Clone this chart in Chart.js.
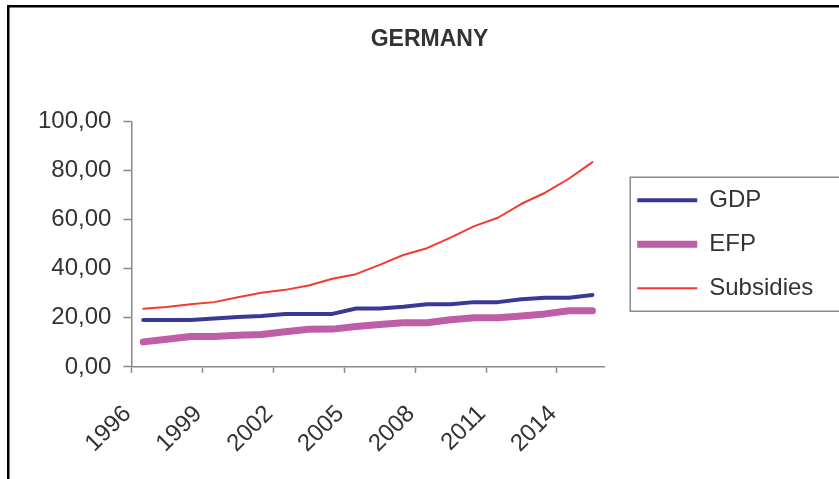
<!DOCTYPE html>
<html>
<head>
<meta charset="utf-8">
<script src="https://cdn.jsdelivr.net/npm/chart.js@4.4.1/dist/chart.umd.min.js"></script>
<style>
  html, body { margin: 0; padding: 0; background: #fff; }
  canvas { display: block; }
</style>
</head>
<body>
<canvas id="grafico" width="839" height="479"></canvas>
<script>
const anos = [1996, 1997, 1998, 1999, 2000, 2001, 2002, 2003, 2004, 2005,
              2006, 2007, 2008, 2009, 2010, 2011, 2012, 2013, 2014, 2015];
const gdp = [19.1, 19.1, 19.1, 19.7, 20.3, 20.7, 21.6, 21.6, 21.6, 23.8,
             23.8, 24.5, 25.5, 25.5, 26.4, 26.4, 27.6, 28.2, 28.2, 29.3];
const efp = [10.2, 11.3, 12.4, 12.4, 12.9, 13.2, 14.3, 15.3, 15.4, 16.5,
             17.3, 18.0, 18.0, 19.2, 20.0, 20.0, 20.7, 21.6, 22.9, 22.9];
const subsidies = [23.7, 24.4, 25.5, 26.4, 28.4, 30.2, 31.4, 33.2, 35.9, 37.8,
                   41.6, 45.6, 48.4, 52.7, 57.4, 60.8, 66.5, 71.0, 76.7, 83.5];
const anosRotulo = [1996, 1999, 2002, 2005, 2008, 2011, 2014];

const fonte = "'Liberation Sans', Arial, sans-serif";
const corTexto = '#333333';
const corEixo = '#8a8a8a';

function serie(valores) {
  return anos.map((a, i) => ({ x: a, y: valores[i] }));
}

// moldura preta do quadro e caixa da legenda
const moldura = {
  id: 'moldura',
  afterLayout(chart) {
    // legenda um pouco afastada do grafico (ate a borda), titulo levemente a direita
    const lg = chart.legend;
    lg.left += 13;
    lg.right = chart.width;
    lg.width = lg.right - lg.left;
    chart.titleBlock.left += 18;
    chart.titleBlock.right += 18;
  },
  beforeDraw(chart) {
    const ctx = chart.ctx;
    ctx.save();
    ctx.fillStyle = '#fff';
    ctx.fillRect(0, 0, chart.width, chart.height);
    ctx.fillStyle = '#000';
    ctx.fillRect(7, 5, chart.width, 2.5);
    ctx.fillRect(7, 5, 2.5, chart.height);
    ctx.restore();
  },
  afterDraw(chart) {
    const lg = chart.legend;
    const ctx = chart.ctx;
    const cy = (lg.top + lg.bottom) / 2;
    ctx.save();
    ctx.strokeStyle = corEixo;
    ctx.lineWidth = 1.5;
    ctx.strokeRect(lg.left + 13, cy - 67, 400, 134);
    ctx.restore();
  }
};

new Chart(document.getElementById('grafico'), {
  type: 'line',
  data: {
    datasets: [
      { label: 'GDP', data: serie(gdp), borderColor: '#373a97', backgroundColor: '#373a97', borderWidth: 4 },
      { label: 'EFP', data: serie(efp), borderColor: '#bd5ea6', backgroundColor: '#bd5ea6', borderWidth: 7 },
      { label: 'Subsidies', data: serie(subsidies), borderColor: '#f43a30', backgroundColor: '#f43a30', borderWidth: 2 }
    ]
  },
  plugins: [moldura],
  options: {
    responsive: false,
    animation: false,
    elements: {
      point: { radius: 0 },
      line: { tension: 0, borderCapStyle: 'round', borderJoinStyle: 'round' }
    },
    layout: { padding: { left: 26, right: 42, top: 0, bottom: -6 } },
    plugins: {
      title: {
        display: true,
        text: 'GERMANY',
        color: corTexto,
        font: { family: fonte, size: 23, weight: 'bold' },
        padding: { top: 26, bottom: 68 }
      },
      legend: {
        position: 'right',
        fullSize: false,
        labels: {
          usePointStyle: true,
          pointStyle: 'line',
          pointStyleWidth: 60,
          padding: 20,
          color: corTexto,
          font: { family: fonte, size: 24 }
        }
      },
      tooltip: { enabled: false }
    },
    scales: {
      x: {
        type: 'linear',
        min: 1995.5,
        max: 2015.5,
        afterBuildTicks: s => { s.ticks = anosRotulo.map(a => ({ value: a - 0.5 })); },
        ticks: {
          minRotation: 45,
          maxRotation: 45,
          padding: 27,
          labelOffset: -4,
          color: corTexto,
          font: { family: fonte, size: 24 },
          callback: v => String(v + 0.5)
        },
        grid: { drawOnChartArea: false, tickLength: 6, tickColor: corEixo, tickWidth: 1.5 },
        border: { color: corEixo, width: 1.5 }
      },
      y: {
        min: 0,
        max: 100,
        ticks: {
          stepSize: 20,
          padding: 12,
          color: corTexto,
          font: { family: fonte, size: 24 },
          callback: v => v.toFixed(2).replace('.', ',')
        },
        grid: { drawOnChartArea: false, tickLength: 8, tickColor: corEixo, tickWidth: 1.5 },
        border: { color: corEixo, width: 1.5 }
      }
    }
  }
});
</script>
</body>
</html>
